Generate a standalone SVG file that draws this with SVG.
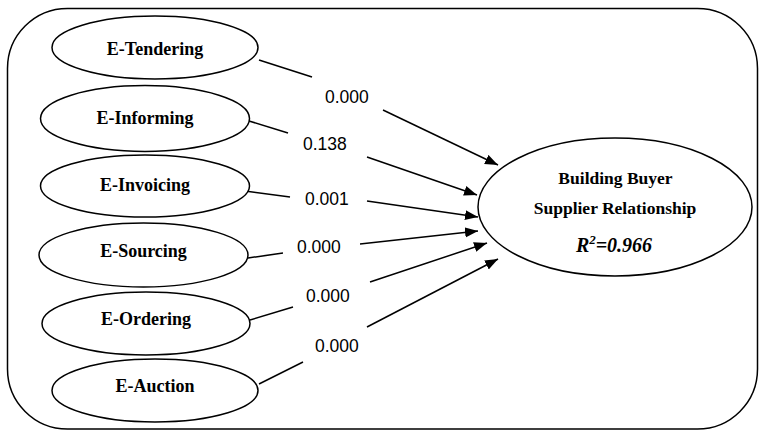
<svg xmlns="http://www.w3.org/2000/svg" width="759" height="431" viewBox="0 0 759 431">
<defs>
<marker id="arr" markerUnits="userSpaceOnUse" markerWidth="14" markerHeight="12" refX="13" refY="5" orient="auto">
<path d="M0,0 L13,5 L0,10 Z" fill="#000"/>
</marker>
<style>
.shape{fill:#fff;stroke:#000;stroke-width:1.5}
.lbl{font-family:"Liberation Serif","Times New Roman",serif;font-weight:bold;font-size:17.5px;text-anchor:middle;fill:#000}
.src{font-size:18px}
.num{font-family:"Liberation Sans",Arial,sans-serif;font-size:17.5px;fill:#000}
.ln{stroke:#000;stroke-width:1.5;fill:none}
.ar{stroke:#000;stroke-width:1.5;fill:none;marker-end:url(#arr)}
</style>
</defs>
<rect x="7.5" y="8.5" width="750" height="420.5" rx="60" ry="60" fill="#fff" stroke="#000" stroke-width="1.5"/>
<g id="connectors">
<line class="ln" x1="259" y1="60" x2="312" y2="77"/>
<line class="ar" x1="383" y1="110" x2="498" y2="165"/>
<line class="ln" x1="249" y1="121" x2="288" y2="133"/>
<line class="ar" x1="367" y1="157" x2="477" y2="195"/>
<line class="ln" x1="245" y1="191" x2="290" y2="197"/>
<line class="ar" x1="367" y1="201" x2="478" y2="217"/>
<line class="ln" x1="248" y1="258" x2="283" y2="253"/>
<line class="ar" x1="360" y1="244" x2="478" y2="231"/>
<line class="ln" x1="250" y1="320" x2="293" y2="307"/>
<line class="ar" x1="370" y1="282" x2="487" y2="243"/>
<line class="ln" x1="259" y1="384" x2="303" y2="362"/>
<line class="ar" x1="367" y1="327" x2="498" y2="259"/>
<text class="num" x="325" y="103">0.000</text>
<text class="num" x="303" y="150">0.138</text>
<text class="num" x="305" y="205">0.001</text>
<text class="num" x="297" y="253">0.000</text>
<text class="num" x="306" y="302">0.000</text>
<text class="num" x="315" y="352">0.000</text>
</g>
<g id="e-tendering">
<ellipse class="shape" cx="155" cy="47.5" rx="103" ry="31.5"/>
<text class="lbl src" x="155" y="55">E-Tendering</text>
</g>
<g id="e-informing">
<ellipse class="shape" cx="145" cy="118.5" rx="104.5" ry="33"/>
<text class="lbl src" x="145" y="124">E-Informing</text>
</g>
<g id="e-invoicing">
<ellipse class="shape" cx="145" cy="186" rx="104.5" ry="31"/>
<text class="lbl src" x="145" y="191">E-Invoicing</text>
</g>
<g id="e-sourcing">
<ellipse class="shape" cx="143.5" cy="255" rx="104.5" ry="32"/>
<text class="lbl src" x="143.5" y="257">E-Sourcing</text>
</g>
<g id="e-ordering">
<ellipse class="shape" cx="146" cy="323.5" rx="104" ry="31.5"/>
<text class="lbl src" x="146" y="325">E-Ordering</text>
</g>
<g id="e-auction">
<ellipse class="shape" cx="155" cy="390.5" rx="103" ry="31.5"/>
<text class="lbl src" x="155" y="392">E-Auction</text>
</g>
<g id="bbsr">
<ellipse class="shape" cx="615" cy="207" rx="137" ry="69"/>
<text class="lbl" x="615.5" y="184">Building Buyer</text>
<text class="lbl" x="615" y="214">Supplier Relationship</text>
<text class="lbl" x="614" y="252" style="font-size:20px;font-style:italic">R<tspan dy="-8" style="font-size:13px">2</tspan><tspan dy="8">=0.966</tspan></text>
</g>
</svg>
